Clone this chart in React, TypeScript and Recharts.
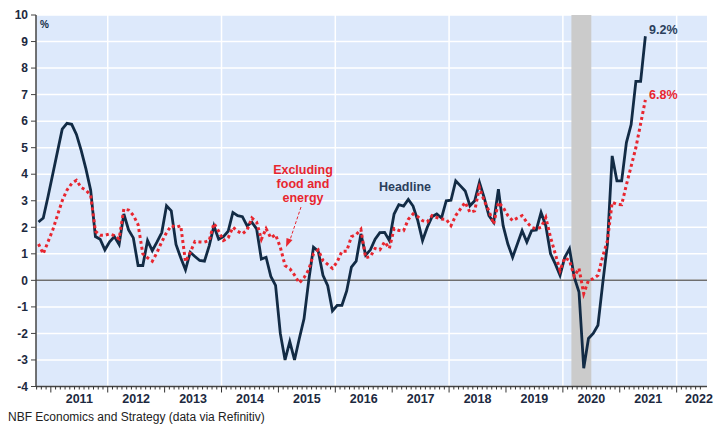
import { LineChart, Line, XAxis, YAxis, CartesianGrid, ReferenceLine, ReferenceArea } from 'recharts'

// monthly y/y % change, first point = Oct 2010
const headline = [
	2.2, 2.35, 3.15, 4.0, 4.85, 5.7, 5.92, 5.88, 5.5, 4.9, 4.2, 3.4,
	1.65, 1.55, 1.15, 1.45, 1.65, 1.35, 2.5, 1.9, 1.6, 0.56, 0.56, 1.5,
	1.12, 1.45, 1.8, 2.81, 2.62, 1.35, 0.85, 0.4, 1.06, 0.9, 0.75, 0.72,
	1.3, 2.05, 1.55, 1.65, 1.85, 2.56, 2.44, 2.4, 2.05, 2.19, 1.94, 0.8,
	0.87, 0.15, -0.19, -2.0, -3.0, -2.31, -3.0, -2.2, -1.45, 0.0, 1.25, 1.1,
	0.19, -0.2, -1.15, -0.94, -0.94, -0.4, 0.5, 0.72, 1.75, 0.95, 1.15, 1.55,
	1.8, 1.81, 1.5, 2.5, 2.85, 2.8, 3.05, 2.8, 2.25, 1.5, 2.0, 2.4,
	2.5, 2.35, 3.0, 3.02, 3.75, 3.56, 3.37, 2.81, 3.0, 3.69, 3.12, 2.44,
	2.19, 3.44, 2.06, 1.37, 0.87, 1.37, 1.87, 1.44, 1.87, 1.9, 2.56, 2.06,
	1.0, 0.62, 0.19, 0.87, 1.19, 0.12, -0.44, -3.31, -2.19, -2.0, -1.69, -0.12,
	1.37, 4.69, 3.75, 3.75, 5.19, 5.87, 7.5, 7.5, 9.2,
]

const core = [
	1.37, 1.0, 1.45, 1.9, 2.45, 3.0, 3.4, 3.65, 3.77, 3.5, 3.4, 3.2,
	1.85, 1.7, 1.7, 1.75, 1.69, 1.56, 2.69, 2.65, 2.45, 2.1, 1.0, 0.85,
	0.72, 1.05, 1.45, 1.8, 2.06, 2.0, 2.06, 0.7, 1.05, 1.47, 1.45, 1.44,
	1.5, 2.15, 1.85, 1.5, 1.6, 2.0, 1.85, 1.75, 1.9, 2.35, 2.2, 1.55,
	1.95, 1.6, 1.72, 1.25, 0.56, 0.44, 0.2, -0.1, 0.1, 0.4, 1.0, 1.15,
	0.75, 0.6, 0.45, 0.7, 1.1, 1.1, 1.65, 1.72, 1.92, 0.85, 0.9, 1.2,
	1.15, 1.45, 1.2, 1.95, 1.88, 1.87, 2.3, 2.5, 2.4, 2.25, 2.2, 2.44,
	2.37, 2.31, 2.3, 2.06, 2.44, 2.69, 2.94, 2.56, 2.62, 3.5, 3.0, 2.62,
	2.12, 2.94, 2.75, 2.44, 2.25, 2.35, 2.44, 2.19, 2.0, 1.94, 2.0, 2.37,
	1.62, 1.0, 0.37, 0.85, 0.75, 0.15, 0.45, -0.5, 0.0, 0.06, 0.19, 0.9,
	1.5, 2.94, 2.87, 2.85, 3.6, 4.3, 5.0, 5.9, 6.8,
]

const years = ['2011', '2012', '2013', '2014', '2015', '2016', '2017', '2018', '2019', '2020', '2021', '2022']
const yTicks = [-4, -3, -2, -1, 0, 1, 2, 3, 4, 5, 6, 7, 8, 9, 10]

// month index of the 1 Jan 2011 boundary, recession band in month index
const FIRST_JAN = 2.6
const RECESSION = [112.4, 116.6]

const data = headline.map((h, i) => ({ m: i, headline: h, core: core[i] }))

const X_MIN = -0.53
const X_MAX = 141.0
const PLOT_LEFT = 36
const PLOT_RIGHT = 707
const PX_PER_MONTH = (PLOT_RIGHT - PLOT_LEFT) / (X_MAX - X_MIN)

const monthTicks = Array.from({ length: 141 }, (_, k) => FIRST_JAN - 3 + k)
const evenYearLines = years.filter((_, i) => i % 2 === 1).map((_, k) => FIRST_JAN + 12 * (2 * k + 1))

const NAVY = '#122b45'
const RED = '#e8262f'
const FONT = 'Arial, "Liberation Sans", sans-serif'

const MonthTick = (props: any) => {
	const { x, y, payload } = props
	const k = Math.round(payload.value - FIRST_JAN)
	const isYear = k >= 0 && k % 12 === 0
	const idx = k / 12
	const labelX = Math.min(x + 6 * PX_PER_MONTH, 699)
	return (
		<g>
			<line x1={x} x2={x} y1={y} y2={y + (isYear ? 6 : 3)} stroke='#333' strokeWidth={1} />
			{isYear && idx < years.length && (
				<text x={labelX} y={y + 16} textAnchor='middle' fontSize={12.5} fontWeight='bold' fill='#1c2940' fontFamily={FONT}>
					{years[idx]}
				</text>
			)}
		</g>
	)
}

export default function App() {
	return (
		<div style={{ position: 'absolute', left: 0, top: 0, width: 715, height: 426, background: '#fff', fontFamily: FONT }}>
			<LineChart width={715} height={426} data={data} margin={{ top: 15, right: 8, bottom: 0, left: 0 }}>
				<CartesianGrid vertical={false} fill='#dde9fb' stroke='#ffffff' strokeWidth={1.5} />
				{evenYearLines.map((v) => (
					<ReferenceLine key={v} x={v} stroke='#ffffff' strokeWidth={1.5} />
				))}
				<ReferenceArea x1={RECESSION[0]} x2={RECESSION[1]} fill='#cbcbcb' fillOpacity={1} stroke='none' />
				<ReferenceLine y={0} stroke='#6e6e6e' strokeWidth={1.5} />
				<XAxis
					dataKey='m'
					type='number'
					domain={[X_MIN, X_MAX]}
					allowDataOverflow
					ticks={monthTicks}
					interval={0}
					tick={MonthTick}
					tickLine={false}
					tickSize={0}
					tickMargin={0}
					height={39.5}
					axisLine={{ stroke: '#444', strokeWidth: 1.5 }}
				/>
				<YAxis
					domain={[-4, 10]}
					ticks={yTicks}
					interval={0}
					width={36}
					tickSize={5}
					tickMargin={3}
					tickLine={{ stroke: '#444' }}
					axisLine={{ stroke: '#444', strokeWidth: 1.5 }}
					tick={{ fontSize: 12, fontWeight: 'bold', fill: '#1c2940', fontFamily: FONT }}
				/>
				<Line type='linear' dataKey='headline' stroke={NAVY} strokeWidth={2.8} dot={false} activeDot={false} isAnimationActive={false} />
				<Line type='linear' dataKey='core' stroke={RED} strokeWidth={3} strokeDasharray='3 3' dot={false} activeDot={false} isAnimationActive={false} />
			</LineChart>
			<svg width={715} height={426} style={{ position: 'absolute', left: 0, top: 0, pointerEvents: 'none' }} fontFamily={FONT}>
				<text x={40} y={27.5} fontSize={10} fontWeight='bold' fill={NAVY}>%</text>
				<text x={303} y={173.5} fontSize={12.5} fontWeight='bold' fill={RED} textAnchor='middle'>Excluding</text>
				<text x={303} y={187.5} fontSize={12.5} fontWeight='bold' fill={RED} textAnchor='middle'>food and</text>
				<text x={303} y={201.5} fontSize={12.5} fontWeight='bold' fill={RED} textAnchor='middle'>energy</text>
				<line x1={301} y1={207} x2={290} y2={240} stroke={RED} strokeWidth={1} strokeDasharray='3 2' />
				<polygon points='286,247 286.5,238 292.5,240' fill={RED} />
				<text x={405} y={191} fontSize={12.5} fontWeight='bold' fill='#2b3f5c' textAnchor='middle'>Headline</text>
				<text x={649} y={34} fontSize={12.5} fontWeight='bold' fill='#2b3f5c'>9.2%</text>
				<text x={649} y={98.5} fontSize={12.5} fontWeight='bold' fill={RED}>6.8%</text>
				<text x={8} y={421} fontSize={12} fill='#222'>NBF Economics and Strategy (data via Refinitiv)</text>
			</svg>
		</div>
	)
}
